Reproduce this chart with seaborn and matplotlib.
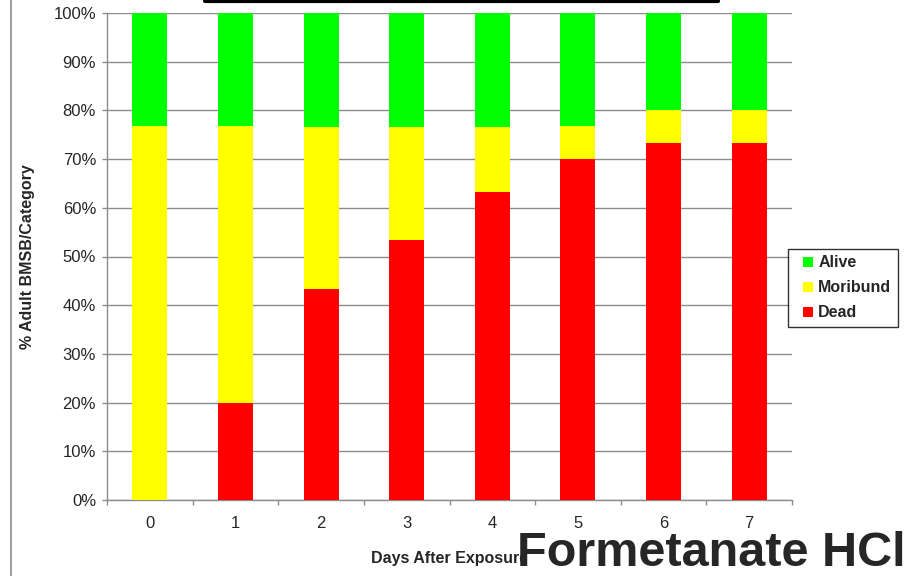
import matplotlib
matplotlib.use("Agg")
import matplotlib.pyplot as plt
from matplotlib.patches import Rectangle
from matplotlib.lines import Line2D
import seaborn as sns
import pandas as pd
import numpy as np

days = ["0", "1", "2", "3", "4", "5", "6", "7"]
dead = [0.0, 20.0, 43.3, 53.3, 63.3, 70.0, 73.3, 73.3]
moribund = [76.7, 56.7, 33.3, 23.3, 13.3, 6.7, 6.7, 6.7]
alive = [23.3, 23.3, 23.4, 23.4, 23.4, 23.3, 20.0, 20.0]

categories = ["Alive", "Moribund", "Dead"]
colors = {"Alive": "#00ff00", "Moribund": "#ffff00", "Dead": "#ff0000"}
grid_gray = "#8c8c8c"

sns.set_theme(style="white")
plt.rcParams["font.family"] = ["Liberation Sans", "DejaVu Sans"]

df = pd.DataFrame({"day": days, "Dead": dead, "Moribund": moribund, "Alive": alive})
df["dead_top"] = df["Dead"]
df["mori_top"] = df["Dead"] + df["Moribund"]
df["alive_top"] = df["mori_top"] + df["Alive"]

fig = plt.figure(figsize=(9.10, 5.76), dpi=100)
ax = fig.add_axes([107 / 910, 1 - 500 / 576, 685 / 910, 487 / 576])

# stacked bars drawn back to front from cumulative totals
for col, cat in [("alive_top", "Alive"), ("mori_top", "Moribund"), ("dead_top", "Dead")]:
    sns.barplot(data=df, x="day", y=col, color=colors[cat], width=0.41,
                saturation=1, linewidth=0, edgecolor="none", ax=ax, zorder=3)

ax.set_ylim(0, 100)
ax.set_xlim(-0.5, 7.5)
ax.set_yticks(np.arange(0, 101, 10))
ax.set_yticklabels([f"{v}%" for v in range(0, 101, 10)], fontsize=12)
ax.set_xticklabels(days, fontsize=12)
ax.yaxis.grid(True, color=grid_gray, linewidth=1.0, zorder=0)
ax.set_axisbelow(True)

for s in ["top", "right"]:
    ax.spines[s].set_visible(False)
for s in ["left", "bottom"]:
    ax.spines[s].set_color(grid_gray)
    ax.spines[s].set_linewidth(1.0)

# tick marks: y ticks outward on the left, x ticks at category boundaries
ax.tick_params(axis="y", which="major", direction="out", length=3.6, width=1,
               color=grid_gray, left=True, pad=4.3)
ax.tick_params(axis="x", which="major", length=0, pad=11.5)
ax.set_xticks(np.arange(-0.5, 8.0, 1.0), minor=True)
ax.tick_params(axis="x", which="minor", direction="out", length=3.6, width=1,
               color=grid_gray, bottom=True)

ax.set_xlabel("")
ax.set_ylabel("% Adult BMSB/Category", fontsize=11.5, fontweight="bold")
ax.yaxis.set_label_coords((35 - 107) / 685, 0.5)

fig.text(450 / 910, 1 - 558 / 576, "Days After Exposure", fontsize=11.5,
         fontweight="bold", ha="center", va="center", zorder=1)

handles = [Line2D([], [], linestyle="none", marker="s", markersize=7.3,
                  markerfacecolor=colors[c], markeredgewidth=0) for c in categories]
leg = fig.legend(handles, categories, loc="upper left",
                 bbox_to_anchor=(788 / 910, 1 - 249 / 576),
                 prop={"weight": "bold", "size": 11.5}, frameon=True,
                 fancybox=False, edgecolor="black", handlelength=1.69,
                 handletextpad=-0.2, labelspacing=0.62,
                 borderpad=0.4, borderaxespad=0)
leg.get_frame().set_linewidth(1.0)

# white block behind the title, masking the tail of the axis caption
fig.add_artist(Rectangle((521 / 910, 0), (905 - 521) / 910, 1 - 532 / 576,
                         transform=fig.transFigure, facecolor="white",
                         edgecolor="none", zorder=2))
fig.text(906 / 910, 1 - 566 / 576, "Formetanate HCl", fontsize=35,
         fontweight="bold", ha="right", va="baseline", zorder=3)

# frame pieces along the figure edges
fig.add_artist(Line2D([11 / 910, 11 / 910], [0, 1], color=grid_gray, linewidth=1.2,
                      transform=fig.transFigure))
fig.add_artist(Line2D([205 / 910, 718 / 910], [1 - 1 / 576, 1 - 1 / 576], color="black",
                      linewidth=3, transform=fig.transFigure))

fig.savefig("out.png", dpi=100)
